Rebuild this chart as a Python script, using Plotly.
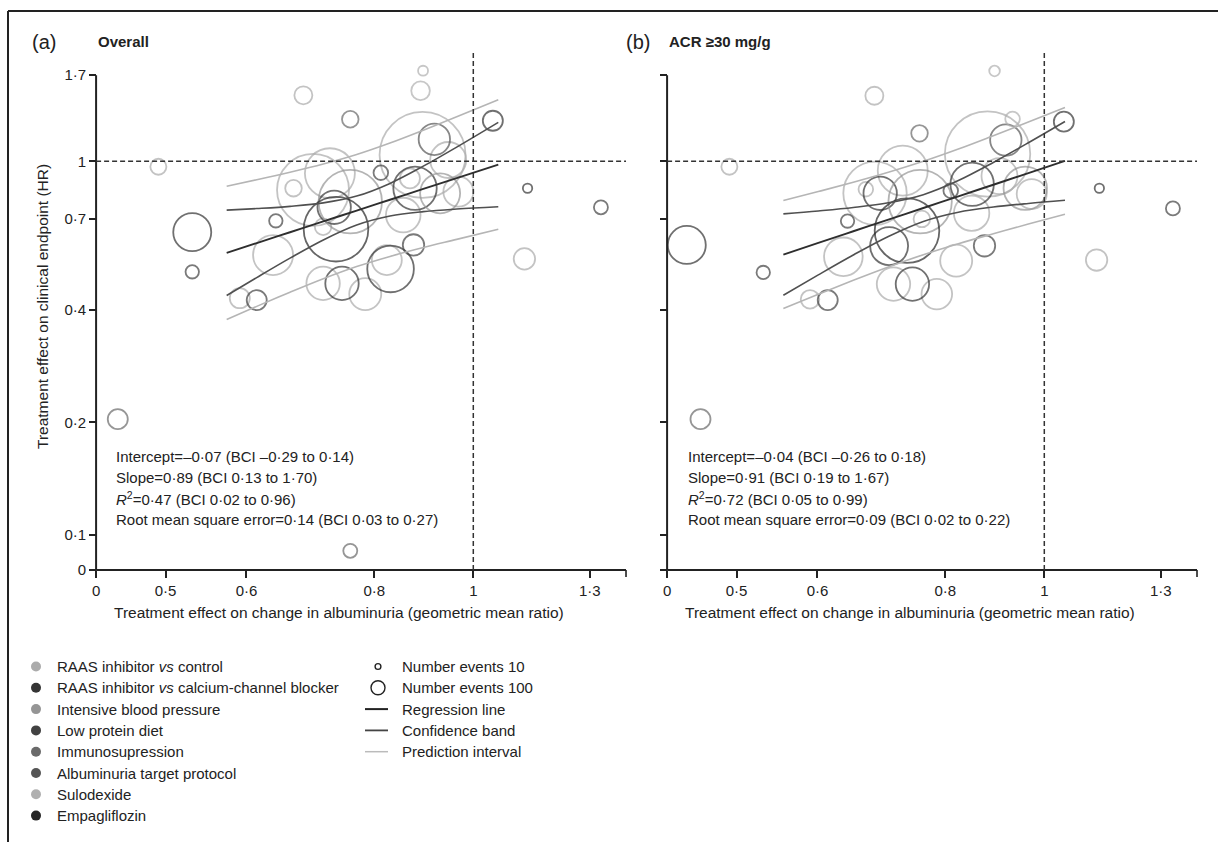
import numpy as np
import plotly.graph_objects as go

W, H = 1218, 842

# ---------------- data ----------------
groups = ["RAAS inhibitor <i>vs</i> control",
          "RAAS inhibitor <i>vs</i> calcium-channel blocker",
          "Intensive blood pressure",
          "Low protein diet",
          "Immunosupression",
          "Albuminuria target protocol",
          "Sulodexide",
          "Empagliflozin"]
group_colors = ["#ababab", "#353535", "#959595", "#424242",
                "#6a6a6a", "#555555", "#b0b0b0", "#262626"]

# Panel (a) Overall: geometric mean ratio, hazard ratio, number of events, group
a_gmr = [0.893, 0.888, 0.682, 0.758, 1.045, 0.892, 0.916, 0.945, 0.967, 0.928,
         0.877, 0.867, 0.812, 0.854, 0.874, 0.830, 0.823, 0.734, 0.731, 0.724,
         0.758, 0.697, 0.667, 0.713, 0.641, 0.637, 0.713, 0.744, 0.784, 0.591,
         0.614, 0.492, 0.531, 0.531, 1.130, 1.333, 1.122, 0.449, 0.758]
a_hr = [1.748, 1.545, 1.502, 1.296, 1.284, 1.040, 1.145, 1.008, 0.829, 0.821,
        0.847, 0.900, 0.932, 0.718, 0.597, 0.515, 0.544, 0.658, 0.753, 0.929,
        0.780, 0.838, 0.847, 0.668, 0.693, 0.561, 0.471, 0.471, 0.441, 0.430,
        0.425, 0.967, 0.646, 0.506, 0.847, 0.753, 0.548, 0.204, 0.0906]
a_events = [69, 240, 225, 191, 278, 5133, 684, 899, 625, 1110,
            1307, 278, 148, 831, 318, 1507, 625, 2896, 774, 1735,
            2790, 3598, 191, 191, 125, 1110, 774, 774, 711, 278,
            278, 178, 1002, 125, 61, 136, 318, 278, 136]
a_group = [6, 6, 0, 4, 1, 0, 5, 0, 0, 2,
           1, 0, 3, 0, 3, 1, 0, 7, 1, 0,
           2, 0, 0, 0, 3, 0, 0, 1, 0, 0,
           3, 0, 1, 3, 1, 3, 0, 4, 4]

# Panel (b) ACR >=30 mg/g
b_gmr = [0.894, 0.682, 0.755, 1.045, 0.931, 0.880, 0.917, 0.904, 0.958, 0.972,
         0.850, 0.810, 0.849, 0.874, 0.820, 0.734, 0.705, 0.691, 0.727, 0.683,
         0.756, 0.669, 0.759, 0.642, 0.636, 0.712, 0.743, 0.785, 0.590, 0.614,
         0.492, 0.447, 0.531, 1.132, 1.336, 1.125, 0.461]
b_hr = [1.745, 1.498, 1.188, 1.277, 1.298, 1.046, 1.140, 0.913, 0.847, 0.817,
        0.868, 0.834, 0.726, 0.594, 0.542, 0.652, 0.593, 0.821, 0.944, 0.821,
        0.780, 0.842, 0.701, 0.692, 0.555, 0.469, 0.469, 0.441, 0.427, 0.425,
        0.967, 0.597, 0.504, 0.847, 0.748, 0.544, 0.204]
b_events = [78, 225, 191, 278, 148, 5061, 684, 899, 1307, 625,
            1307, 148, 870, 318, 711, 2896, 1002, 774, 1735, 2790,
            2790, 148, 191, 125, 1034, 774, 774, 650, 240, 278,
            178, 1002, 125, 61, 136, 318, 278]
b_group = [6, 0, 4, 1, 6, 0, 5, 0, 2, 0,
           1, 3, 0, 3, 0, 7, 1, 1, 0, 0,
           2, 0, 0, 3, 0, 0, 1, 0, 0, 3,
           0, 1, 3, 1, 3, 0, 4]

# Regression line, confidence band and prediction interval
a_curve_x = [0.5738, 0.6140, 0.6618, 0.7133, 0.7690, 0.8289, 0.8935, 0.9633, 1.0579]
a_reg = [0.5688, 0.6040, 0.6457, 0.6903, 0.7381, 0.7890, 0.8435, 0.9019, 0.9803]
a_conf_up = [0.7399, 0.7472, 0.7575, 0.7739, 0.8069, 0.8726, 0.9704, 1.0916, 1.2716]
a_conf_lo = [0.4372, 0.4883, 0.5504, 0.6158, 0.6751, 0.7134, 0.7332, 0.7451, 0.7557]
a_pred_up = [0.8579, 0.8926, 0.9347, 0.9830, 1.0425, 1.1190, 1.2111, 1.3163, 1.4605]
a_pred_lo = [0.3771, 0.4088, 0.4461, 0.4848, 0.5226, 0.5563, 0.5875, 0.6179, 0.6580]

b_curve_x = [0.5556, 0.6011, 0.6504, 0.7038, 0.7615, 0.8240, 0.8915, 0.9647, 1.0477]
b_reg = [0.5628, 0.6046, 0.6496, 0.6979, 0.7498, 0.8056, 0.8655, 0.9298, 1.0024]
b_conf_up = [0.7232, 0.7364, 0.7521, 0.7742, 0.8141, 0.8880, 0.9930, 1.1210, 1.2780]
b_conf_lo = [0.4380, 0.4965, 0.5611, 0.6291, 0.6904, 0.7308, 0.7543, 0.7712, 0.7863]
b_pred_up = [0.7851, 0.8298, 0.8787, 0.9344, 0.9997, 1.0785, 1.1707, 1.2733, 1.3926]
b_pred_lo = [0.4034, 0.4406, 0.4802, 0.5213, 0.5623, 0.6017, 0.6398, 0.6790, 0.7215]

# axis ticks ("0" marks the axis break)
x_tick_vals = [0.4276, 0.5, 0.6, 0.8, 1.0, 1.3]
x_tick_text = ["0", "0·5", "0·6", "0·8", "1", "1·3"]
y_tick_vals = [0.0805, 0.1, 0.2, 0.4, 0.7, 1.0, 1.7]
y_tick_text = ["0", "0·1", "0·2", "0·4", "0·7", "1", "1·7"]
x_min, x_max = 0.4276, 1.4105
y_min, y_max, y_top = 0.0805, 1.7, 1.9655

stats_a = ["Intercept=–0·07 (BCI –0·29 to 0·14)",
           "Slope=0·89 (BCI 0·13 to 1·70)",
           "<i>R</i><sup>2</sup>=0·47 (BCI 0·02 to 0·96)",
           "Root mean square error=0·14 (BCI 0·03 to 0·27)"]
stats_b = ["Intercept=–0·04 (BCI –0·26 to 0·18)",
           "Slope=0·91 (BCI 0·19 to 1·67)",
           "<i>R</i><sup>2</sup>=0·72 (BCI 0·05 to 0·99)",
           "Root mean square error=0·09 (BCI 0·02 to 0·22)"]

legend_events = [10, 100]

# ---------------- figure ----------------
FONT = "Liberation Sans, Arial, sans-serif"
INK = "#222222"
EV_PER_PX2 = 0.694  # events per squared pixel of circle diameter (area scaling)


def diam(ev):
    return np.sqrt(np.asarray(ev, dtype=float) / EV_PER_PX2)


fig = go.Figure()


def add_panel(gmr, hr, events, grp, cx, reg, cu, cl, pu, pl, xa, ya):
    gmr = np.asarray(gmr); hr = np.asarray(hr)
    ev = np.asarray(events); grp = np.asarray(grp)
    for g in range(len(groups)):
        m = grp == g
        if not m.any():
            continue
        fig.add_trace(go.Scatter(
            x=gmr[m], y=hr[m], mode="markers", xaxis=xa, yaxis=ya,
            name=groups[g], showlegend=False, hoverinfo="x+y+name",
            marker=dict(size=diam(ev[m]), sizemode="diameter",
                        color="rgba(0,0,0,0)",
                        line=dict(color=group_colors[g], width=1.8))))
    for yy, col, w in [(pu, "#b5b5b5", 1.6), (pl, "#b5b5b5", 1.6),
                       (cu, "#505050", 1.6), (cl, "#505050", 1.6),
                       (reg, "#2e2e2e", 1.9)]:
        fig.add_trace(go.Scatter(x=cx, y=yy, mode="lines", xaxis=xa, yaxis=ya,
                                 showlegend=False, hoverinfo="skip",
                                 line=dict(color=col, width=w, shape="spline")))


add_panel(a_gmr, a_hr, a_events, a_group, a_curve_x, a_reg, a_conf_up, a_conf_lo,
          a_pred_up, a_pred_lo, "x", "y")
add_panel(b_gmr, b_hr, b_events, b_group, b_curve_x, b_reg, b_conf_up, b_conf_lo,
          b_pred_up, b_pred_lo, "x2", "y2")


# pixel layout helpers
def px(x):
    return x / W


def py(y):
    return 1 - y / H


xr = [np.log10(np.exp((86 - 473.3) / 444)), np.log10(np.exp((630 - 473.3) / 444))]
yr = [np.log10(np.exp((161.3 - 578) / 162.2)), np.log10(np.exp((161.3 - 48) / 162.2))]

axis_common = dict(type="log", showgrid=False, zeroline=False, showline=False,
                   ticks="outside", ticklen=7, tickwidth=1.6, tickcolor=INK,
                   tickmode="array", anchor="free",
                   tickfont=dict(family=FONT, size=15, color=INK))

fig.update_layout(
    xaxis=dict(axis_common, domain=[px(86), px(630)], range=xr, position=py(570),
               tickvals=x_tick_vals, ticktext=x_tick_text),
    yaxis=dict(axis_common, domain=[py(578), py(48)], range=yr, position=px(96.1),
               tickvals=y_tick_vals, ticktext=y_tick_text),
    xaxis2=dict(axis_common, domain=[px(657), px(1201)], range=xr, position=py(570),
                tickvals=x_tick_vals, ticktext=x_tick_text),
    yaxis2=dict(axis_common, domain=[py(578), py(48)], range=yr, position=px(667.1),
                tickvals=y_tick_vals, showticklabels=False),
)

# end-of-axis tick length on the log y scale (7 px)
y_tick_end = y_min * np.exp(-7 / 162.2)

shapes = []
for xa, ya in [("x", "y"), ("x2", "y2")]:
    shapes += [
        dict(type="line", xref=xa, yref=ya, x0=x_min, x1=x_max, y0=y_min, y1=y_min,
             line=dict(color=INK, width=2)),
        dict(type="line", xref=xa, yref=ya, x0=x_min, x1=x_min, y0=y_min, y1=y_max,
             line=dict(color=INK, width=2)),
        dict(type="line", xref=xa, yref=ya, x0=x_max, x1=x_max, y0=y_min, y1=y_tick_end,
             line=dict(color=INK, width=1.6)),
        dict(type="line", xref=xa, yref=ya, x0=x_min, x1=x_max, y0=1, y1=1,
             line=dict(color="#333333", width=1.5, dash="5px,3px")),
        dict(type="line", xref=xa, yref=ya, x0=1, x1=1, y0=y_min, y1=y_top,
             line=dict(color="#333333", width=1.5, dash="5px,3px")),
    ]
# outer frame (top and left)
shapes += [
    dict(type="line", xref="paper", yref="paper", x0=px(8), x1=1.0, y0=py(11), y1=py(11),
         line=dict(color=INK, width=2)),
    dict(type="line", xref="paper", yref="paper", x0=px(8), x1=px(8), y0=0, y1=py(11),
         line=dict(color=INK, width=2)),
]

annotations = []


def txt(x, y, s, size=15, xanchor="left", angle=0, bold=False):
    annotations.append(dict(x=px(x), y=py(y), xref="paper", yref="paper",
                            text=f"<b>{s}</b>" if bold else s, showarrow=False,
                            xanchor=xanchor, yanchor="middle", textangle=angle,
                            font=dict(family=FONT, size=size, color=INK)))


txt(30, 42, "(a)", size=20)
txt(96, 42, "Overall", size=15, bold=True)
txt(624, 42, "(b)", size=20)
txt(667, 42, "ACR ≥30 mg/g", size=15, bold=True)
txt(42, 307, "Treatment effect on clinical endpoint (HR)", size=15.5, xanchor="center", angle=-90)
txt(339, 612, "Treatment effect on change in albuminuria (geometric mean ratio)", size=15.5, xanchor="center")
txt(910, 612, "Treatment effect on change in albuminuria (geometric mean ratio)", size=15.5, xanchor="center")
for i, (sa, sb) in enumerate(zip(stats_a, stats_b)):
    yy = 456 + 21.3 * i
    txt(113.5, yy, sa)
    txt(685.5, yy, sb)

# legend (left column: groups; right column: sizes and lines)
for i, (g, c) in enumerate(zip(groups, group_colors)):
    yy = 666.5 + 21.3 * i
    r = 5
    shapes.append(dict(type="circle", xref="paper", yref="paper",
                       x0=px(36 - r), x1=px(36 + r), y0=py(yy + r), y1=py(yy - r),
                       fillcolor=c, line=dict(width=0)))
    txt(55, yy, g)

for i, ev in enumerate(legend_events):
    yy = 666.5 + 21.3 * i
    r = float(diam(ev)) / 2 + 1.0
    shapes.append(dict(type="circle", xref="paper", yref="paper",
                       x0=px(378 - r), x1=px(378 + r), y0=py(yy + r), y1=py(yy - r),
                       fillcolor="rgba(0,0,0,0)", line=dict(color=INK, width=1.4)))
    txt(400, yy, f"Number events {ev}")

for i, (lab, col, w) in enumerate([("Regression line", "#222222", 2),
                                   ("Confidence band", "#444444", 1.8),
                                   ("Prediction interval", "#bbbbbb", 1.5)]):
    yy = 666.5 + 21.3 * (i + 2)
    shapes.append(dict(type="line", xref="paper", yref="paper",
                       x0=px(365), x1=px(388), y0=py(yy), y1=py(yy),
                       line=dict(color=col, width=w)))
    txt(400, yy, lab)

fig.update_layout(
    width=W, height=H, template="none",
    margin=dict(l=0, r=0, t=0, b=0),
    paper_bgcolor="white", plot_bgcolor="rgba(0,0,0,0)",
    showlegend=False, shapes=shapes, annotations=annotations,
    font=dict(family=FONT, size=15, color=INK),
)

# remove the browser's default 8px page margin so the figure sits at the window origin
fig.write_html("out.html", config={"displayModeBar": False},
               post_script="document.body.style.margin='0px';document.body.style.overflow='hidden';")
